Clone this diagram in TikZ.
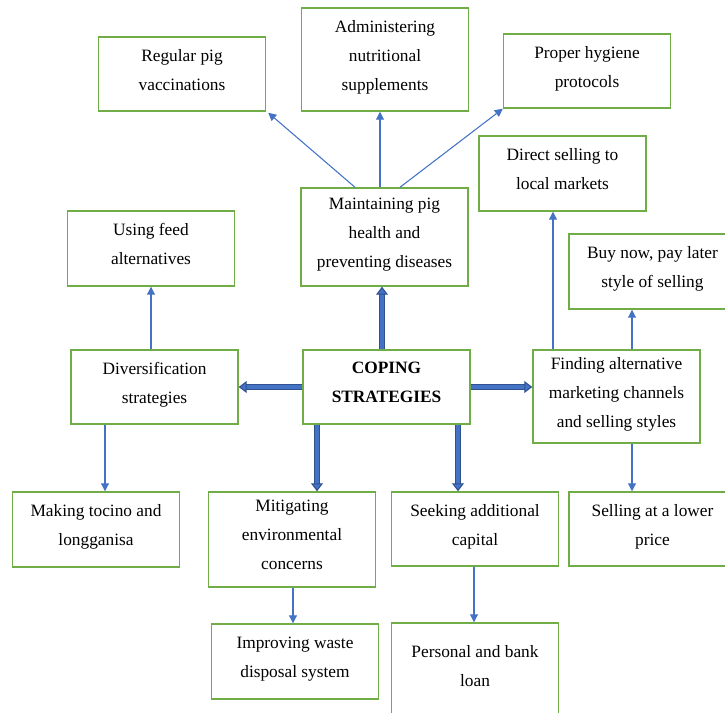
\documentclass[tikz,border=0pt]{standalone}
\usepackage{fontspec}
\setmainfont{Liberation Serif}
\usetikzlibrary{arrows.meta}
\definecolor{boxgreen}{HTML}{70AD47}
\definecolor{linkblue}{HTML}{4472C4}
\definecolor{darkblue}{HTML}{2F528F}
\tikzset{
  box/.style={draw=boxgreen, line width=1.1pt, fill=white, align=center, text depth=6.5pt,
    minimum width=125.25pt, inner sep=2pt, font=\fontsize{13}{21.75}\selectfont},
  boxh/.style={minimum height=#1*0.75pt},
  thinarrow/.style={draw=linkblue, line width=0.8pt, -{Triangle[length=6pt,width=6pt]}},
  bigarrow/.style={draw=darkblue, double=linkblue, double distance=2.4pt, line width=0.8pt,
    -{Triangle[length=6pt,width=9pt,fill=linkblue]}},
}
\begin{document}
\begin{tikzpicture}[x=0.75pt, y=-0.75pt]
    \useasboundingbox (0,0) rectangle (725,713);

    \node[box, boxh=74] (vacc) at (182,74) {Regular pig\\vaccinations};
    \node[box, boxh=103] (supp) at (385,59.5) {Administering\\nutritional\\supplements};
    \node[box, boxh=74] (hyg) at (587,71) {Proper hygiene\\protocols};
    \node[box, boxh=75] (direct) at (562.5,173.5) {Direct selling to\\local markets};
    \node[box, boxh=98] (health) at (384.5,237) {Maintaining pig\\health and\\preventing diseases};
    \node[box, boxh=75] (feed) at (151,248.5) {Using feed\\alternatives};
    \node[box, boxh=75] (buy) at (652.5,271.5) {Buy now, pay later\\style of selling};
    \node[box, boxh=74] (div) at (154.5,387) {Diversification\\strategies};
    \node[box, boxh=74, font=\fontsize{13}{21.75}\selectfont\bfseries] (cope) at (386.5,387) {COPING\\STRATEGIES};
    \node[box, boxh=93] (market) at (616.5,396.5) {Finding alternative\\marketing channels\\and selling styles};
    \node[box, boxh=75] (tocino) at (96,529.5) {Making tocino and\\longganisa};
    \node[box, boxh=95] (env) at (292,539.5) {Mitigating\\environmental\\concerns};
    \node[box, boxh=74] (capital) at (475,529) {Seeking additional\\capital};
    \node[box, boxh=74] (lower) at (652.5,529) {Selling at a lower\\price};
    \node[box, boxh=75] (waste) at (295,661.5) {Improving waste\\disposal system};
    \node[box, boxh=95] (loan) at (475,670.5) {Personal and bank\\loan};

    \draw[thinarrow] ([shift={(-29.5,0)}]health.north) -- ([shift={(2,1)}]vacc.south east);
    \draw[thinarrow] ([shift={(-4.5,0)}]health.north) -- ([shift={(-5,0)}]supp.south);
    \draw[thinarrow] ([shift={(15.5,0)}]health.north) -- (hyg.south west);
    \draw[thinarrow] ([shift={(-63.5,0)}]market.north) -- ([shift={(-9.5,0)}]direct.south);
    \draw[thinarrow] ([shift={(15.5,0)}]market.north) -- ([shift={(-20.5,0)}]buy.south);
    \draw[thinarrow] ([shift={(15.5,0)}]market.south) -- ([shift={(-20.5,0)}]lower.north);
    \draw[thinarrow] ([shift={(-3.5,0)}]div.north) -- (feed.south);
    \draw[thinarrow] ([shift={(-49.5,0)}]div.south) -- ([shift={(9,0)}]tocino.north);
    \draw[thinarrow] ([shift={(1,0)}]env.south) -- ([shift={(-2,0)}]waste.north);
    \draw[thinarrow] ([shift={(-1,0)}]capital.south) -- ([shift={(-1,0)}]loan.north);

    \draw[bigarrow] ([shift={(-4.5,0)}]cope.north) -- ([shift={(-2.5,0)}]health.south);
    \draw[bigarrow] (cope.west) -- (div.east);
    \draw[bigarrow] (cope.east) -- (cope.east -| market.west);
    \draw[bigarrow] ([shift={(-69.5,0)}]cope.south) -- ([shift={(25,0)}]env.north);
    \draw[bigarrow] ([shift={(71.5,0)}]cope.south) -- ([shift={(-17,0)}]capital.north);
\end{tikzpicture}
\end{document}
